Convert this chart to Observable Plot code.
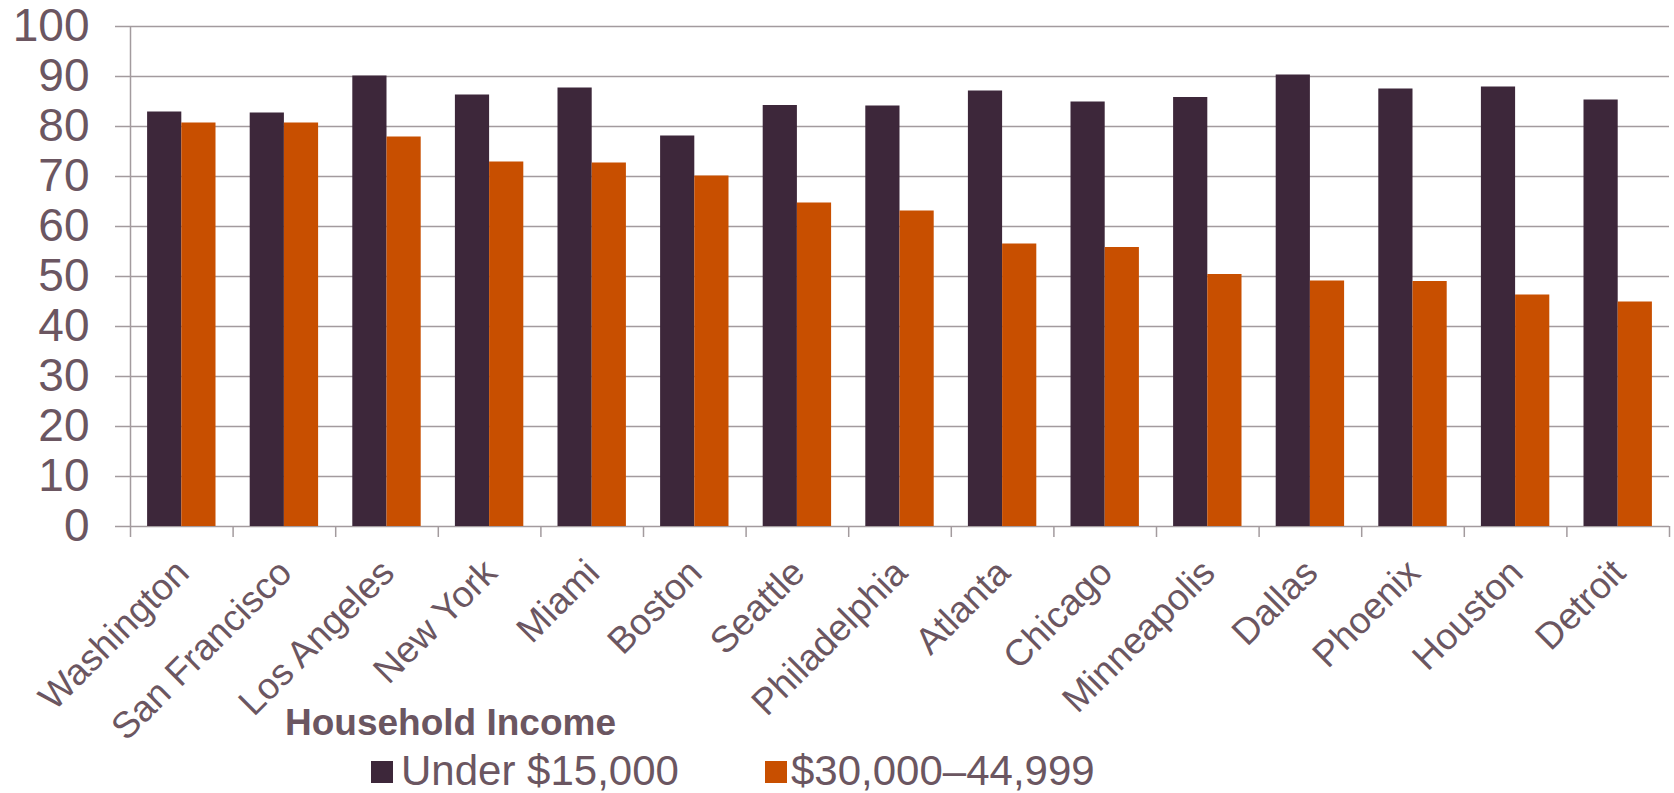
<!DOCTYPE html>
<html>
<head>
<meta charset="utf-8">
<script src="https://cdn.jsdelivr.net/npm/d3@7"></script>
<script src="https://cdn.jsdelivr.net/npm/@observablehq/plot@0.6"></script>
<style>
  html, body { margin: 0; padding: 0; background: #fff; }
  #wrap { position: relative; width: 1674px; height: 793px; font-family: "Liberation Sans", Arial, sans-serif; color: #6b5661; }
  .lg { position: absolute; white-space: nowrap; line-height: 1; }
  .sw { position: absolute; width: 22px; height: 22px; }
</style>
</head>
<body>
<div id="wrap"></div>
<script>
const cities = ["Washington", "San Francisco", "Los Angeles", "New York", "Miami", "Boston", "Seattle", "Philadelphia", "Atlanta", "Chicago", "Minneapolis", "Dallas", "Phoenix", "Houston", "Detroit"];
const under15000 = [82.9, 82.7, 90.1, 86.3, 87.7, 78.1, 84.2, 84.1, 87.1, 84.9, 85.8, 90.3, 87.5, 87.9, 85.3];
const from30000to44999 = [80.7, 80.7, 77.9, 72.9, 72.7, 70.1, 64.7, 63.1, 56.5, 55.8, 50.4, 49.1, 49.0, 46.3, 44.9];
const seriesNames = ["Under $15,000", "$30,000–44,999"];
const seriesColors = ["#3d273a", "#c84f00"];
const yTicks = [0, 10, 20, 30, 40, 50, 60, 70, 80, 90, 100];
const legendTitle = "Household Income";

const textColor = "#6b5661";
const gridColor = "#a39b9e";

// one row per bar; x1/x2 in category-index units (Excel-style 50% gap)
const rows = cities.flatMap((city, i) => [
  {city, series: seriesNames[0], value: under15000[i], x1: i + 1 / 6, x2: i + 1 / 2},
  {city, series: seriesNames[1], value: from30000to44999[i], x1: i + 1 / 2, x2: i + 5 / 6}
]);

const chart = Plot.plot({
  width: 1674,
  height: 793,
  marginTop: 26,
  marginBottom: 267,
  marginLeft: 130,
  marginRight: 5,
  style: {fontFamily: "'Liberation Sans', Arial, sans-serif", background: "#fff", overflow: "visible"},
  x: {domain: [0, cities.length], label: null},
  y: {domain: [0, 100], label: null},
  color: {domain: seriesNames, range: seriesColors},
  marks: [
    Plot.gridY(yTicks, {stroke: gridColor, strokeOpacity: 1, strokeWidth: 1.5}),
    Plot.axisY(yTicks, {label: null, tickSize: 15, tickPadding: 26, fontSize: 46, stroke: gridColor, strokeWidth: 1.5, fill: textColor, tickFormat: d => String(d)}),
    Plot.rectY(rows, {x1: "x1", x2: "x2", y1: 0, y2: "value", fill: "series"}),
    Plot.ruleX([0], {y1: 0, y2: 100, stroke: gridColor, strokeWidth: 1.5}),
    Plot.axisX(d3.range(cities.length + 1), {label: null, tickSize: 11, tickFormat: () => "", stroke: gridColor, strokeWidth: 1.5}),
    Plot.axisX(cities.map((c, i) => i + 0.5), {
      label: null, tickSize: 0, tickPadding: 40, tickRotate: -45, dx: 1,
      tickFormat: v => cities[Math.floor(v)], fontSize: 37, fill: textColor
    })
  ]
});

const wrap = document.getElementById("wrap");
wrap.appendChild(chart);

// legend (HTML, overlaid below the plot area)
function addText(txt, left, top, size, weight) {
  const s = document.createElement("div");
  s.className = "lg";
  s.textContent = txt;
  s.style.left = left + "px";
  s.style.top = top + "px";
  s.style.fontSize = size + "px";
  s.style.fontWeight = weight;
  wrap.appendChild(s);
}
function addSwatch(color, left, top) {
  const s = document.createElement("div");
  s.className = "sw";
  s.style.left = left + "px";
  s.style.top = top + "px";
  s.style.background = color;
  wrap.appendChild(s);
}
addText(legendTitle, 285, 704, 37, "bold");
addSwatch(seriesColors[0], 371, 761);
addText(seriesNames[0], 401, 750, 42, "normal");
addSwatch(seriesColors[1], 765, 761);
addText(seriesNames[1], 791, 750, 42, "normal");
</script>
</body>
</html>
